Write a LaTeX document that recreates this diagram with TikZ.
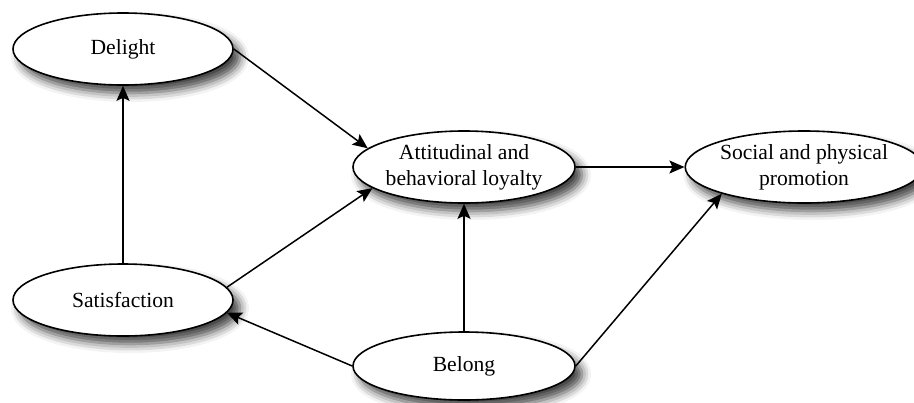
\documentclass[tikz,border=0pt]{standalone}
\usepackage{fontspec}
\setmainfont{Liberation Serif}
\usetikzlibrary{shapes.geometric,arrows.meta,shadows.blur}

\begin{document}
\begin{tikzpicture}[x=0.5pt,y=-0.5pt,
  construct/.style={draw, ellipse, fill=white, line width=0.8pt, minimum width=110pt, minimum height=36pt, inner sep=0pt, align=center, font=\fontsize{10.8}{13}\selectfont, blur shadow={shadow xshift=3.5pt, shadow yshift=-4pt, shadow blur radius=4.5pt, shadow opacity=75}},
  link/.style={draw, line width=0.75pt, -{Stealth[length=7.5pt,width=6.5pt,inset=1.5pt]}}]
\useasboundingbox (0,0) rectangle (914,402);
\node[construct] (del) at (123,49) {Delight};
\node[construct] (sat) at (123,300) {Satisfaction};
\node[construct, minimum width=111pt] (att) at (464,167) {Attitudinal and\\behavioral loyalty};
\node[construct, minimum width=109pt] (soc) at (804,167) {Social and physical\\promotion};
\node[construct, minimum width=111pt, minimum height=34pt] (bel) at (464,366) {Belong};
\path[link] (sat) -- (del);
\path[link] (del.east) -- (att.169);
\path[link] (sat.7) -- (att.193);
\path[link] (bel.west) -- (sat.-7);
\path[link] (bel) -- (att);
\path[link] (att) -- (soc);
\path[link] (bel.east) -- (soc.198);
\end{tikzpicture}
\end{document}
